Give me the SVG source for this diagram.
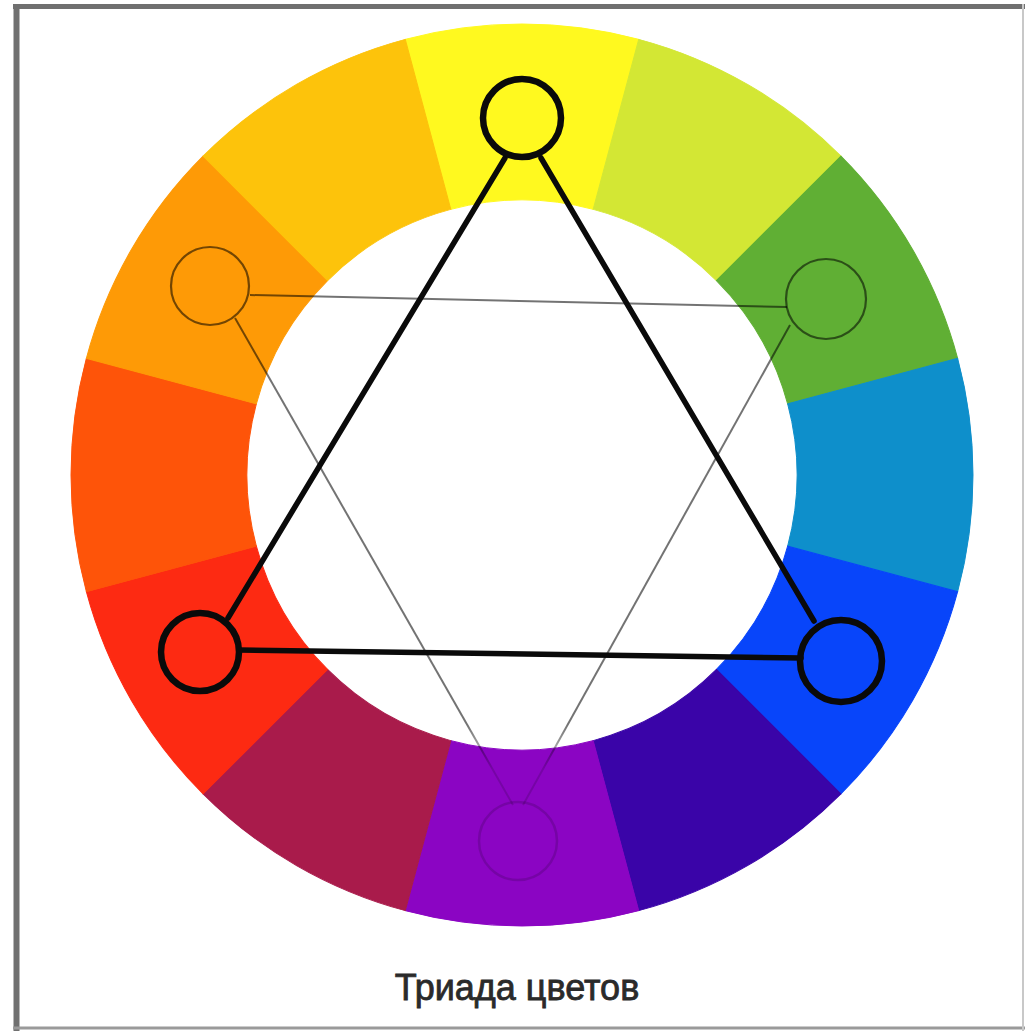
<svg xmlns="http://www.w3.org/2000/svg" xmlns:xlink="http://www.w3.org/1999/xlink" width="1025" height="1031" viewBox="0 0 1025 1031">
  <style>
    .seg { stroke-width: 1; }
    .thick { stroke: #0a0a0a; stroke-width: 5.5; fill: none; stroke-linecap: round; }
    .thin { stroke: #000; stroke-opacity: 0.55; stroke-width: 2; fill: none; }
    .ring-thick { stroke: #0a0a0a; stroke-width: 6.5; fill: none; }
    .ring-thin { stroke: #000; stroke-opacity: 0.55; stroke-width: 2.2; fill: none; }
    .caption { font-family: "Liberation Sans", Arial, sans-serif; font-size: 36px; fill: #2a2a2a; stroke: #2a2a2a; stroke-width: 0.8; }
  </style>
  <defs>
    <path id="seg" d="M 405.27 39.37 A 451 451 0 0 1 638.73 39.37 L 593.18 209.37 A 275 275 0 0 0 450.82 209.37 Z" fill="currentColor" stroke="currentColor"/>
    <linearGradient id="fade" gradientUnits="userSpaceOnUse" x1="0" y1="725" x2="0" y2="770">
      <stop offset="0" stop-color="#000" stop-opacity="0.55"/>
      <stop offset="1" stop-color="#000" stop-opacity="0.15"/>
    </linearGradient>
  </defs>

  <rect x="0" y="0" width="1025" height="1031" fill="#ffffff"/>

  <!-- frame -->
  <g id="frame">
    <line x1="13" y1="6.5" x2="1025" y2="6.5" stroke="#707070" stroke-width="5"/>
    <line x1="16.5" y1="4" x2="16.5" y2="1031" stroke="#707070" stroke-width="6"/>
    <line x1="13" y1="1028" x2="1025" y2="1028" stroke="#9a9a9a" stroke-width="3"/>
    <line x1="1023" y1="4" x2="1023" y2="1031" stroke="#c8c8c8" stroke-width="2"/>
  </g>

  <!-- colour wheel -->
  <g id="wheel">
    <use xlink:href="#seg" href="#seg" class="seg" color="#FFF91F"/>
    <use xlink:href="#seg" href="#seg" class="seg" color="#D3E734" transform="rotate(30 522 475)"/>
    <use xlink:href="#seg" href="#seg" class="seg" color="#60AF34" transform="rotate(60 522 475)"/>
    <use xlink:href="#seg" href="#seg" class="seg" color="#0E8FCB" transform="rotate(90 522 475)"/>
    <use xlink:href="#seg" href="#seg" class="seg" color="#0845FA" transform="rotate(120 522 475)"/>
    <use xlink:href="#seg" href="#seg" class="seg" color="#3A04A8" transform="rotate(150 522 475)"/>
    <use xlink:href="#seg" href="#seg" class="seg" color="#8B05C3" transform="rotate(180 522 475)"/>
    <use xlink:href="#seg" href="#seg" class="seg" color="#A91B4B" transform="rotate(210 522 475)"/>
    <use xlink:href="#seg" href="#seg" class="seg" color="#FD2A12" transform="rotate(240 522 475)"/>
    <use xlink:href="#seg" href="#seg" class="seg" color="#FE5409" transform="rotate(270 522 475)"/>
    <use xlink:href="#seg" href="#seg" class="seg" color="#FE9A06" transform="rotate(300 522 475)"/>
    <use xlink:href="#seg" href="#seg" class="seg" color="#FDC30B" transform="rotate(330 522 475)"/>
  </g>

  <!-- connectors -->
  <g id="connectors">
    <line class="thin" x1="250" y1="295" x2="787" y2="307"/>
    <line x1="235" y1="318" x2="513" y2="805" stroke="url(#fade)" stroke-width="2"/>
    <line x1="790" y1="325" x2="523" y2="805" stroke="url(#fade)" stroke-width="2"/>
    <line class="thick" x1="505" y1="158" x2="228" y2="618"/>
    <line class="thick" x1="541" y1="158" x2="814" y2="621"/>
    <line class="thick" x1="239" y1="650" x2="801" y2="658"/>
  </g>

  <!-- nodes -->
  <g id="node-yellow"><circle class="ring-thick" cx="522" cy="118" r="39"/></g>
  <g id="node-red"><circle class="ring-thick" cx="200" cy="652" r="39"/></g>
  <g id="node-blue"><circle class="ring-thick" cx="841" cy="661" r="41"/></g>
  <g id="node-orange"><circle class="ring-thin" cx="210" cy="286" r="39"/></g>
  <g id="node-green"><circle class="ring-thin" cx="826" cy="299" r="40"/></g>
  <g id="node-violet"><circle cx="518" cy="841" r="39" fill="none" stroke="#000" stroke-opacity="0.15" stroke-width="2.5"/></g>

  <text class="caption" x="517" y="1000" text-anchor="middle">Триада цветов</text>
</svg>
